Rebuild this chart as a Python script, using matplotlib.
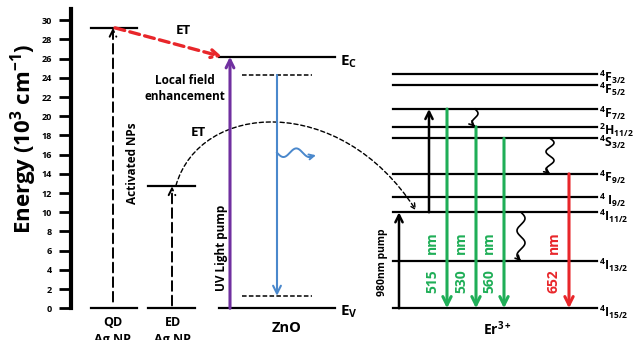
import numpy as np
import matplotlib.pyplot as plt
from matplotlib.path import Path
from matplotlib.patches import FancyArrowPatch

FONT = 'Open Sans'
plt.rcParams['font.family'] = [FONT, 'DejaVu Sans']
plt.rcParams['font.weight'] = 'bold'
plt.rcParams['mathtext.fontset'] = 'custom'
plt.rcParams['mathtext.rm'] = FONT + ':bold'
plt.rcParams['mathtext.it'] = FONT + ':bold'
plt.rcParams['mathtext.bf'] = FONT + ':bold'

# energies in 10^3 cm^-1
ticks = list(range(0, 31, 2))
qd_level = 29.2
ed_level = 12.7
zno_ec = 26.2
zno_ev = 0.0
zno_trap_top = 24.3
zno_trap_bot = 1.3
er_names = [r'$^4$F$_{3/2}$', r'$^4$F$_{5/2}$', r'$^4$F$_{7/2}$', r'$^2$H$_{11/2}$',
            r'$^4$S$_{3/2}$', r'$^4$F$_{9/2}$', r'$^4$ I$_{9/2}$', r'$^4$I$_{11/2}$',
            r'$^4$I$_{13/2}$', r'$^4$I$_{15/2}$']
er_levels = [24.4, 23.2, 20.75, 18.9, 17.7, 14.0, 11.6, 10.0, 4.9, 0.0]
emission_nm = ['515', '530', '560', '652']
emission_from = [20.75, 18.9, 17.7, 14.0]
emission_colors = ['#1fae57', '#1fae57', '#1fae57', '#e8262a']

RED = '#e8262a'
PURPLE = '#7030a0'
BLUE = '#4a88cc'


def arrow(ax, x0, y0, x1, y1, color='black', lw=1.5, ls='-', ms=14):
    ax.annotate('', xy=(x1, y1), xytext=(x0, y0),
                arrowprops=dict(arrowstyle='->', color=color, lw=lw, ls=ls,
                                mutation_scale=ms, shrinkA=0, shrinkB=0))


def wavy_down(ax, x, y0, y1, amp=4, n=2.0, color='black', lw=1.2):
    t = np.linspace(0, 1, 200)
    ys = y0 + (y1 - y0) * t
    xs = x + amp * np.sin(2 * np.pi * n * t)
    ax.plot(xs[:-6], ys[:-6], color=color, lw=lw)
    arrow(ax, xs[-12], ys[-12], xs[-1], ys[-1], color=color, lw=lw, ms=8)


fig = plt.figure(figsize=(6.38, 3.40), dpi=100)
ax = fig.add_axes([0, 0, 1, 1])
ax.set_xlim(0, 638)
ax.set_ylim(-3.3, 32.1)

# left energy axis
for s in ['top', 'right', 'bottom']:
    ax.spines[s].set_visible(False)
ax.spines['left'].set_position(('data', 71))
ax.spines['left'].set_linewidth(3)
ax.spines['left'].set_bounds(0, 31.2)
ax.set_yticks(ticks)
ax.tick_params(axis='y', length=9, width=2, labelsize=6.5, pad=5)
for lab in ax.get_yticklabels():
    lab.set_fontweight('bold')
ax.set_xticks([])
ax.text(24, 17.6, r'Energy (10$^3$ cm$^{-1}$)', rotation=90, fontsize=16,
        fontweight='bold', ha='center', va='center')

# Ag NP columns
ax.plot([91, 137], [qd_level, qd_level], color='black', lw=1.6)
ax.plot([91, 137], [0, 0], color='black', lw=1.6)
ax.plot([148, 195], [ed_level, ed_level], color='black', lw=1.6)
ax.plot([148, 195], [0, 0], color='black', lw=1.6)
arrow(ax, 113, 0.7, 113, qd_level, ls=(0, (5, 2.5)), lw=1.4, ms=12)
arrow(ax, 172, 0.3, 172, ed_level, ls=(0, (5, 2.5)), lw=1.4, ms=12)
ax.text(133, 15.1, 'Activated NPs', rotation=90, fontsize=8.5, fontweight='bold',
        ha='center', va='center')
ax.text(113, -1.45, 'QD', fontsize=9, fontweight='bold', ha='center', va='center')
ax.text(173, -1.45, 'ED', fontsize=9, fontweight='bold', ha='center', va='center')
ax.text(113, -2.6, 'Ag NP', fontsize=9, fontweight='bold', ha='center', va='top')
ax.text(173, -2.6, 'Ag NP', fontsize=9, fontweight='bold', ha='center', va='top')

# ET from QD to ZnO conduction band
arrow(ax, 115, qd_level, 222, zno_ec, color=RED, lw=2.4, ls=(0, (3, 1.6)), ms=14)
ax.text(183, 28.9, 'ET', fontsize=9.5, fontweight='bold', ha='center', va='center')
ax.text(185, 22.9, 'Local field\nenhancement', fontsize=8.5, fontweight='bold',
        ha='center', va='center', linespacing=1.3)

# ZnO
ax.plot([219, 335], [zno_ec, zno_ec], color='black', lw=1.6)
ax.plot([219, 335], [zno_ev, zno_ev], color='black', lw=1.6)
ax.plot([242, 312], [zno_trap_top, zno_trap_top], color='black', lw=1.1, ls=(0, (3, 1.5)))
ax.plot([242, 312], [zno_trap_bot, zno_trap_bot], color='black', lw=1.1, ls=(0, (3, 1.5)))
arrow(ax, 230, zno_ev, 230, zno_ec, color=PURPLE, lw=2.2, ms=14)
arrow(ax, 277, zno_trap_top, 277, zno_trap_bot, color=BLUE, lw=1.5, ms=14)
t = np.linspace(0, 1, 200)
wx = 277 + 36 * t
wy = 16.2 - 0.45 * np.sin(2 * np.pi * 1.4 * t)
ax.plot(wx[:-10], wy[:-10], color=BLUE, lw=1.4)
arrow(ax, wx[-25], wy[-25], wx[-1] + 3, wy[-1], color=BLUE, lw=1.4, ms=9)
ax.text(221, 6.3, 'UV Light pump', rotation=90, fontsize=8.5, fontweight='bold',
        ha='center', va='center')
ax.text(287, -2.1, 'ZnO', fontsize=10.5, fontweight='bold', ha='center', va='center')
ax.text(340, 25.7, r'E$_\mathrm{C}$', fontsize=11, fontweight='bold', ha='left', va='center')
ax.text(340, -0.4, r'E$_\mathrm{V}$', fontsize=11, fontweight='bold', ha='left', va='center')

# ET from ED to Er 4I11/2
et_path = Path([(176, 12.8), (200, 21.5), (340, 22.5), (416, 10.2)],
               [Path.MOVETO, Path.CURVE4, Path.CURVE4, Path.CURVE4])
ax.add_patch(FancyArrowPatch(path=et_path, arrowstyle='->', mutation_scale=10,
                             color='black', lw=1.0, ls=(0, (3, 2))))
ax.text(198, 18.3, 'ET', fontsize=9.5, fontweight='bold', ha='center', va='center')

# Er3+
for name, e in zip(er_names, er_levels):
    ax.plot([393, 597], [e, e], color='black', lw=1.6)
    ax.text(599, e - 0.4, name, fontsize=8.8, fontweight='bold', ha='left', va='center')
arrow(ax, 399, 0, 399, er_levels[7], lw=1.8, ms=13)
arrow(ax, 429, er_levels[7], 429, er_levels[2], lw=1.8, ms=13)
ax.text(382, 4.8, '980nm pump', rotation=90, fontsize=7.5, fontweight='bold',
        ha='center', va='center')
for i, (nm, e, c) in enumerate(zip(emission_nm, emission_from, emission_colors)):
    x = [447, 476, 504, 569][i]
    arrow(ax, x, e, x, 0, color=c, lw=2.2, ms=15)
    ax.text(x - 15, 2.8, nm, rotation=90, fontsize=10, fontweight='bold', color=c,
            ha='center', va='center')
    ax.text(x - 15, 6.8, 'nm', rotation=90, fontsize=10, fontweight='bold', color=c,
            ha='center', va='center')
wavy_down(ax, 475, er_levels[2], er_levels[3], amp=3, n=1.0)
wavy_down(ax, 550, er_levels[4], er_levels[5], amp=4, n=2.0)
wavy_down(ax, 521, er_levels[7], er_levels[8], amp=4, n=2.0)
ax.text(497, -2.1, r'Er$^{3+}$', fontsize=10, fontweight='bold', ha='center', va='center')

fig.savefig('out.png', dpi=100)
